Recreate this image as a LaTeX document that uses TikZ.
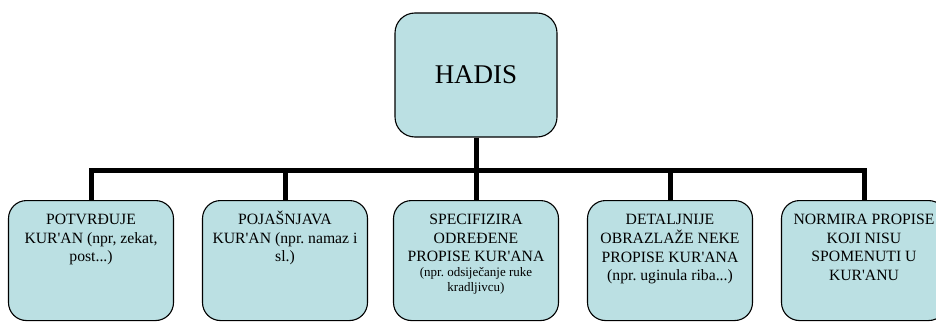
\documentclass[tikz,border=0pt]{standalone}
\usepackage{fontspec}
\setmainfont{Liberation Serif}
\definecolor{plava}{HTML}{BBE0E3}
\frenchspacing
\newcommand{\sitno}{\fontsize{13}{14.5}\selectfont}
\newcommand{\redovi}[1]{\begin{tabular}[t]{@{}c@{}}#1\end{tabular}}

\begin{document}
\begin{tikzpicture}[x=1pt,y=-1pt,
  kutija/.style={draw,line width=1.1pt,fill=plava,rounded corners=18pt,
    minimum width=165pt,anchor=north,
    inner ysep=0pt,text height=24pt,text depth=96pt,
    font=\fontsize{15.7}{18.6}\selectfont},
  veza/.style={line width=5pt}]
\useasboundingbox (0,0) rectangle (936,321);
\node[draw,line width=1.1pt,fill=plava,rounded corners=20pt,
  minimum width=162pt,minimum height=124pt,
  font=\fontsize{27}{32}\selectfont] (0) at (476,75) {HADIS};
\node[kutija] (1) at (91,200) {\redovi{POTVRĐUJE\\ KUR\textquotesingle AN (npr, zekat,\\ post...)}};
\node[kutija] (2) at (285,200) {\redovi{POJAŠNJAVA\\ KUR\textquotesingle AN (npr. namaz i\\ sl.)}};
\node[kutija] (3) at (476,200) {\redovi{SPECIFIZIRA\\ ODREĐENE\\ PROPISE KUR\textquotesingle ANA\\[-3.5pt]
  \sitno (npr. odsiječanje ruke\\[-4pt] \sitno kradljivcu)}};
\node[kutija] (4) at (670,200) {\redovi{DETALJNIJE\\ OBRAZLAŽE NEKE\\ PROPISE KUR\textquotesingle ANA\\ (npr. uginula riba...)}};
\node[kutija] (5) at (864,200) {\redovi{NORMIRA PROPISE\\ KOJI NISU\\ SPOMENUTI U\\ KUR\textquotesingle ANU}};
% linije
\coordinate (bar) at (476,170);
\draw[veza] (0) -- (bar);
\foreach \i in {1,...,5}
  \draw[veza] (\i) |- (bar);
\end{tikzpicture}
\end{document}
